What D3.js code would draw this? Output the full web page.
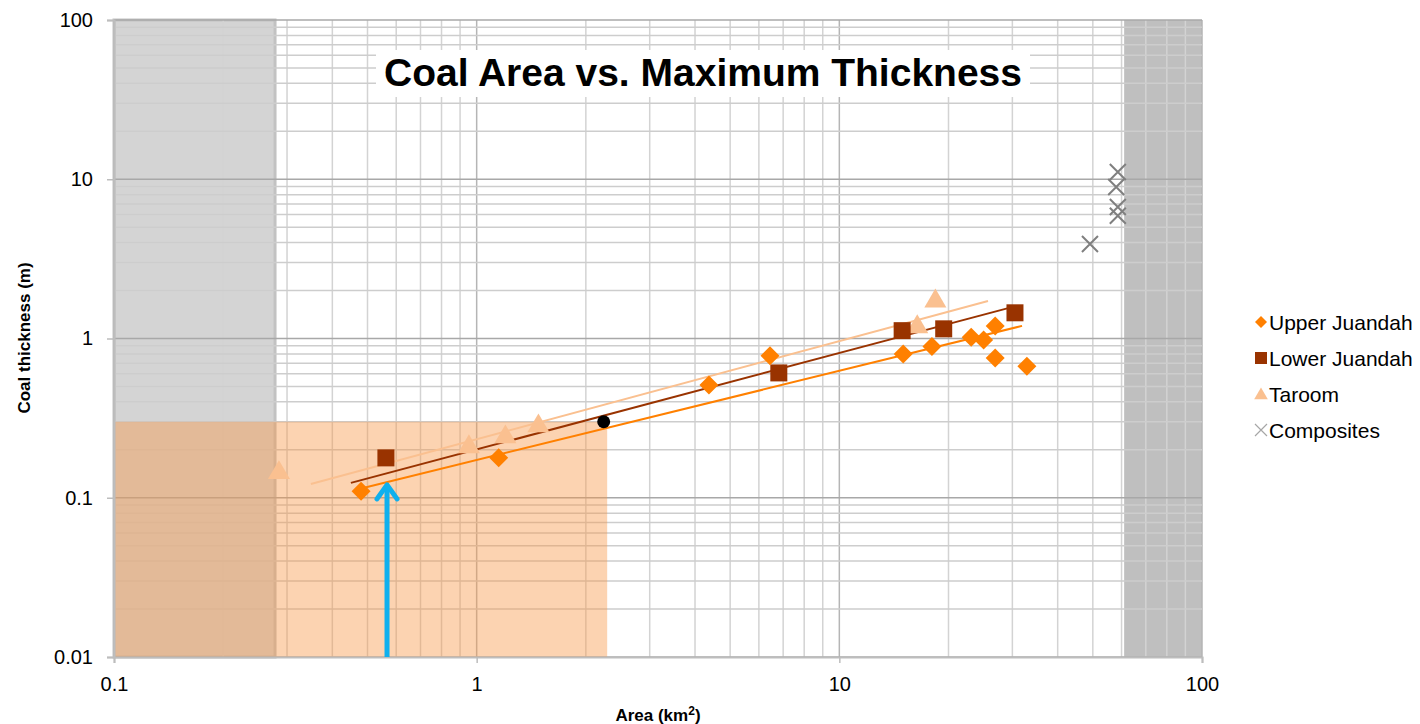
<!DOCTYPE html>
<html lang="en">
<head>
<meta charset="UTF-8">
<script src="https://cdn.jsdelivr.net/npm/d3@7"></script>
<title>Coal Area vs. Maximum Thickness</title>
<style>
  body { margin: 0; background: #fff; }
  text { font-family: "Liberation Sans", Arial, sans-serif; }
</style>
</head>
<body>
<div id="viz"></div>
<script>
// data: [area km2, thickness m]
const upperJuandah = [[0.48,0.11],[1.15,0.178],[4.37,0.51],[6.44,0.78],[15,0.80],[18,0.89],
  [23.1,1.02],[25,0.98],[26.9,1.2],[26.9,0.755],[32.9,0.67]]
const lowerJuandah = [[0.562,0.178],[6.81,0.608],[14.9,1.12],[19.4,1.15],[30.5,1.45]]
const taroom = [[0.285,0.148],[0.952,0.215],[1.2,0.248],[1.48,0.291],[16.4,1.22],[18.4,1.77]]
const composites = [[49.1,3.92],[58.6,11.1],[58,8.95],[58.6,6.7],[58.6,5.9]]
const blackPoint = [[2.24,0.3]]

// trendline end points
const upperTrend = [[0.477,0.114],[31.9,1.2]]
const lowerTrend = [[0.45,0.124],[30.1,1.58]]
const taroomTrend = [[0.349,0.122],[25.7,1.72]]

// shaded regions
const leftGray = [0.1, 0.278]
const rightGray = [61, 100]
const orangeBox = { x: [0.1, 2.29], y: [0.01, 0.3] }
const arrow = [[0.566,0.01],[0.566,0.124]]

const xTicks = [0.1, 1, 10, 100]
const yTicks = [0.01, 0.1, 1, 10, 100]

const W = 1420, H = 724
const svg = d3.select("#viz").append("svg").attr("width", W).attr("height", H)

const x = d3.scaleLog().domain([0.1, 100]).range([114, 1202])
const y = d3.scaleLog().domain([0.01, 100]).range([657, 20])

const isMajor = v => Math.abs(Math.log10(v) - Math.round(Math.log10(v))) < 1e-6

// gray regions
svg.append("rect")
  .attr("x", x(leftGray[0])).attr("y", y(100))
  .attr("width", x(leftGray[1]) - x(leftGray[0])).attr("height", y(0.01) - y(100))
  .attr("fill", "#d4d4d4").attr("stroke", "#c2c2c2").attr("stroke-width", 3)
svg.append("rect")
  .attr("x", x(rightGray[0])).attr("y", y(100))
  .attr("width", x(rightGray[1]) - x(rightGray[0])).attr("height", y(0.01) - y(100))
  .attr("fill", "#bfbfbf")

// grid
const grid = svg.append("g")
x.ticks().forEach(v => {
  grid.append("line").attr("x1", x(v)).attr("x2", x(v)).attr("y1", y(100)).attr("y2", y(0.01))
    .attr("stroke", isMajor(v) ? "#b5b5b5" : "#d3d3d3").attr("stroke-width", 1.5)
})
y.ticks().forEach(v => {
  grid.append("line").attr("x1", x(0.1)).attr("x2", x(100)).attr("y1", y(v)).attr("y2", y(v))
    .attr("stroke", isMajor(v) ? "#a8a8a8" : "#cdcdcd").attr("stroke-width", 1.5)
})

// orange box
svg.append("rect")
  .attr("x", x(orangeBox.x[0])).attr("y", y(orangeBox.y[1]))
  .attr("width", x(orangeBox.x[1]) - x(orangeBox.x[0]))
  .attr("height", y(orangeBox.y[0]) - y(orangeBox.y[1]))
  .attr("fill", "#f79646").attr("fill-opacity", 0.42)

// axes
const yAxis = svg.append("g").attr("transform", `translate(${x(0.1)},0)`)
  .call(d3.axisLeft(y).tickValues(yTicks).tickFormat(d => d).tickSize(7).tickPadding(14))
const xAxis = svg.append("g").attr("transform", `translate(0,${y(0.01)})`)
  .call(d3.axisBottom(x).tickValues(xTicks).tickFormat(d => d).tickSize(6).tickPadding(14))
;[xAxis, yAxis].forEach(a => {
  a.select(".domain").attr("stroke", "#bdbdbd").attr("stroke-width", 2)
  a.selectAll(".tick line").attr("stroke", "#bdbdbd").attr("stroke-width", 1.5)
  a.selectAll(".tick text").attr("font-size", 20).attr("fill", "#000")
    .attr("font-family", "Liberation Sans, Arial, sans-serif")
})

// trendlines
const line = d3.line().x(d => x(d[0])).y(d => y(d[1]))
svg.append("path").attr("d", line(taroomTrend)).attr("stroke", "#fac090").attr("stroke-width", 2).attr("fill", "none")
svg.append("path").attr("d", line(lowerTrend)).attr("stroke", "#993300").attr("stroke-width", 2).attr("fill", "none")
svg.append("path").attr("d", line(upperTrend)).attr("stroke", "#ff8000").attr("stroke-width", 2).attr("fill", "none")

// markers
const diamond = s => `M0,${-s}L${s},0L0,${s}L${-s},0Z`
const square = s => `M${-s},${-s}H${s}V${s}H${-s}Z`
const tri = s => `M0,${-s}L${s*1.05},${s*0.8}L${-s*1.05},${s*0.8}Z`
const cross = s => `M${-s},${-s}L${s},${s}M${s},${-s}L${-s},${s}`

function drawPts(data, path, fill, stroke) {
  svg.append("g").selectAll("path").data(data).join("path")
    .attr("transform", d => `translate(${x(d[0])},${y(d[1])})`)
    .attr("d", path)
    .attr("fill", fill || "none")
    .attr("stroke", stroke || "none")
    .attr("stroke-width", 2)
}
drawPts(taroom, tri(10.5), "#fac090")
drawPts(lowerJuandah, square(8.5), "#993300")
drawPts(upperJuandah, diamond(9.5), "#ff8000")
drawPts(composites, cross(8), null, "#7f7f7f")
svg.append("g").selectAll("circle").data(blackPoint).join("circle")
  .attr("cx", d => x(d[0])).attr("cy", d => y(d[1])).attr("r", 6.5).attr("fill", "#000")

// blue arrow
svg.append("line")
  .attr("x1", x(arrow[0][0])).attr("x2", x(arrow[1][0]))
  .attr("y1", y(arrow[0][1])).attr("y2", y(arrow[1][1]) + 4)
  .attr("stroke", "#0fb0ee").attr("stroke-width", 5)
svg.append("path")
  .attr("d", `M${x(arrow[1][0]) - 10},${y(arrow[1][1]) + 16}L${x(arrow[1][0])},${y(arrow[1][1]) + 2}L${x(arrow[1][0]) + 10},${y(arrow[1][1]) + 16}`)
  .attr("stroke", "#0fb0ee").attr("stroke-width", 5).attr("fill", "none")
  .attr("stroke-linejoin", "round").attr("stroke-linecap", "round")

// title with white box
const titleG = svg.append("g")
const titleBox = titleG.append("rect").attr("fill", "#fff")
const title = titleG.append("text").attr("x", 703).attr("y", 86)
  .attr("text-anchor", "middle").attr("font-size", 39).attr("font-weight", "bold")
  .text("Coal Area vs. Maximum Thickness")
const bb = title.node().getBBox()
titleBox.attr("x", bb.x - 8).attr("y", bb.y - 1).attr("width", bb.width + 16).attr("height", bb.height + 4)

// axis titles
svg.append("text").attr("transform", "translate(30,338) rotate(-90)")
  .attr("text-anchor", "middle").attr("font-size", 17).attr("font-weight", "bold")
  .text("Coal thickness (m)")
const xt = svg.append("text").attr("x", 658).attr("y", 721)
  .attr("text-anchor", "middle").attr("font-size", 17).attr("font-weight", "bold")
xt.append("tspan").text("Area (km")
xt.append("tspan").attr("font-size", 12).attr("dy", -6).text("2")
xt.append("tspan").attr("dy", 6).text(")")

// legend
const legendItems = [
  { name: "Upper Juandah", path: diamond(6), fill: "#ff8000" },
  { name: "Lower Juandah", path: square(6), fill: "#993300" },
  { name: "Taroom", path: tri(6.5), fill: "#fac090" },
  { name: "Composites", path: cross(6), stroke: "#a6a6a6" }
]
const lg = svg.append("g").attr("transform", "translate(1261,322)")
legendItems.forEach((d, i) => {
  const row = lg.append("g").attr("transform", `translate(0,${i * 36})`)
  row.append("path").attr("d", d.path).attr("fill", d.fill || "none")
    .attr("stroke", d.stroke || "none").attr("stroke-width", 1.2)
  row.append("text").attr("x", 8).attr("y", 7.5).attr("font-size", 21).text(d.name)
})
</script>
</body>
</html>
